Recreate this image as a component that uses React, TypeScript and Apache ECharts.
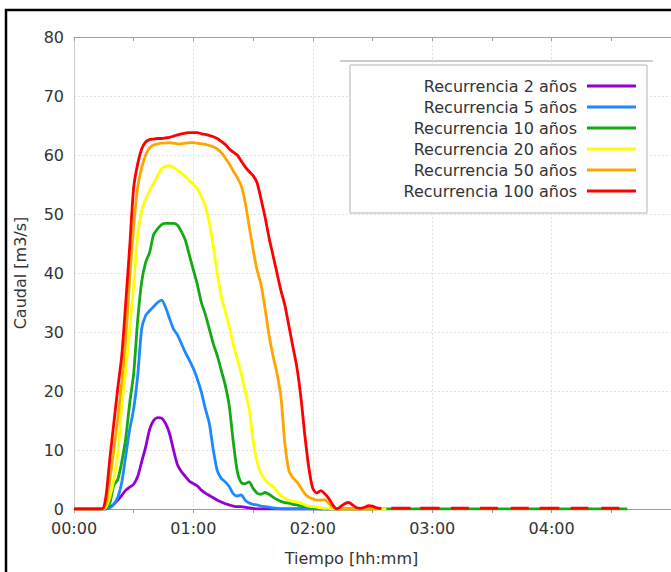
import React, { useEffect, useRef } from "react";
import * as echarts from "echarts";

// Time in minutes from 00:00
const TIME = [
  0, 14, 16, 18, 20, 22, 24, 26, 28, 30, 32, 34, 36, 38, 40, 42, 44, 46, 48, 50,
  52, 54, 56, 58, 60, 62, 64, 66, 68, 70, 72, 74, 76, 78, 80, 82, 84, 86, 88, 90,
  92, 94, 96, 98, 100, 102, 104, 106, 108, 110, 112, 114, 116, 118, 120, 122, 124, 126, 128, 130,
  132,
];

// Caudal [m3/s] per return period
const Q2 = [
  0, 0, 0, 0.3, 0.8, 1.5, 2.3, 3.2, 3.7, 4.2, 5.5, 8.0, 10.5, 13.5, 15.0, 15.5, 15.4, 14.5, 12.8, 10.0,
  7.5, 6.3, 5.5, 4.7, 4.3, 3.9, 3.2, 2.7, 2.3, 1.9, 1.5, 1.2, 0.9, 0.7, 0.5, 0.4, 0.4, 0.3, 0.2, 0.1,
  0, 0, 0, 0, 0, 0, 0, 0, 0, 0, 0, 0, 0, 0, 0, 0, 0, 0, 0, 0,
  0,
];
const Q5 = [
  0, 0, 0, 0.2, 0.8, 2.0, 4.5, 9.0, 13.5, 17.0, 22.5, 30.5, 32.8, 33.6, 34.3, 35.0, 35.4, 34.2, 32.3, 30.5,
  29.5, 28.0, 26.5, 25.2, 23.8, 22.0, 19.8, 17.0, 14.5, 10.0, 6.5, 5.2, 4.6, 3.8, 2.6, 2.2, 2.4, 1.5, 1.0, 0.8,
  0.7, 0.5, 0.4, 0.3, 0.2, 0.1, 0, 0, 0, 0, 0, 0, 0, 0, 0, 0, 0, 0, 0, 0,
  0,
];
const Q10 = [
  0, 0, 0.2, 1.0, 4.0, 5.0, 8.0, 12.0, 18.0, 23.0, 32.0, 38.5, 41.8, 43.5, 46.5, 47.5, 48.2, 48.4, 48.4, 48.4,
  48.1, 47.0, 45.5, 43.0, 40.5, 38.0, 35.0, 33.0, 30.5, 28.0, 26.0, 23.5, 21.0, 17.5, 11.5, 6.5, 4.5, 4.3, 4.6, 3.5,
  2.7, 2.5, 2.8, 2.5, 2.0, 1.6, 1.3, 1.1, 1.0, 0.8, 0.7, 0.5, 0.4, 0.3, 0.2, 0.1, 0, 0, 0, 0,
  0,
];
const Q20 = [
  0, 0, 0.3, 2.0, 5.0, 9.5, 17.5, 23.5, 30.5, 38.0, 46.5, 50.5, 52.5, 54.0, 55.2, 56.5, 57.7, 58.1, 58.2, 57.9,
  57.4, 56.9, 56.3, 55.6, 55.0, 54.2, 53.0, 51.3, 48.5, 44.5, 40.0, 36.0, 33.5, 31.0, 28.0, 25.5, 23.0, 20.0, 17.0, 11.5,
  8.0, 6.0, 5.0, 4.3, 3.8, 3.0, 2.3, 1.8, 1.5, 1.3, 1.2, 1.0, 0.7, 0.5, 0.4, 0.3, 0.2, 0.1, 0.1, 0,
  0,
];
const Q50 = [
  0, 0, 0.8, 5.0, 10.0, 15.5, 21.5, 29.0, 39.0, 48.0, 54.5, 57.8, 60.0, 61.2, 61.7, 61.9, 62.0, 62.0, 62.1, 62.0,
  61.9, 61.9, 62.0, 62.1, 62.1, 62.0, 61.9, 61.8, 61.6, 61.4, 61.0, 60.4, 59.5, 58.5, 57.3, 56.2, 54.8, 52.0, 48.0, 44.0,
  40.5, 38.0, 34.0, 29.5, 26.0, 23.0, 19.0, 11.0, 6.5, 5.3, 4.6, 3.6, 2.6, 2.0, 1.7, 1.5, 1.5, 1.6, 1.0, 0.3,
  0,
];
const Q100 = [
  0, 0, 2.0, 8.5, 14.5, 20.5, 26.0, 35.0, 44.5, 54.5, 58.5, 61.0, 62.2, 62.6, 62.7, 62.8, 62.8, 62.9, 63.0, 63.2,
  63.4, 63.6, 63.7, 63.8, 63.8, 63.8, 63.6, 63.5, 63.3, 63.1, 62.8, 62.3, 61.8, 61.0, 60.5, 60.0, 59.0, 58.0, 57.2, 56.5,
  55.3, 52.5, 49.5, 46.0, 43.0, 40.0, 37.0, 34.5, 31.0, 27.5, 24.0, 19.0, 12.5, 7.0, 3.5, 2.7, 3.1, 2.6, 1.8, 0.7,
  0,
];

// Time (min) at which each series' flat zero tail ends
const TAIL_END = [150, 150, 278, 157, 152, 0];

// Recurrence 100 years: ripples after the main hydrograph (null = break)
const RED_TAIL_TIME = [
  134, 136, 138, 140, 142, 144, 146, 148, 150, 152, 154.5, 157,
  159.4, 169.1, 171, 174, 183.7, 186, 189.4, 198.4, 201, 204, 213, 216,
  219.5, 228.5, 231, 234, 243.9, 246, 249.6, 258.5, 262, 265, 274,
];
const RED_TAIL_Q = [
  0.4, 0.9, 1.1, 0.7, 0.2, 0.1, 0.3, 0.55, 0.5, 0.2, 0.05, null,
  0.15, 0.15, null, 0.15, 0.15, null, 0.15, 0.15, null, 0.15, 0.15, null,
  0.15, 0.15, null, 0.15, 0.15, null, 0.15, 0.15, null, 0.15, 0.15,
];

const SERIES_NAMES = [
  "Recurrencia 2 años",
  "Recurrencia 5 años",
  "Recurrencia 10 años",
  "Recurrencia 20 años",
  "Recurrencia 50 años",
  "Recurrencia 100 años",
];
const SERIES_VALUES = [Q2, Q5, Q10, Q20, Q50, Q100];
const SERIES_COLORS = ["#9400D3", "#1E88FF", "#14AA14", "#FFFF00", "#FFA500", "#FF0000"];

const FONT = "DejaVu Sans";

function fmtTime(v: number): string {
  if (v % 60 !== 0) return "";
  const h = Math.floor(v / 60);
  return (h < 10 ? "0" : "") + h + ":00";
}

export default function App() {
  const ref = useRef<HTMLDivElement>(null);

  useEffect(() => {
    if (!ref.current) return;
    const chart = echarts.init(ref.current, undefined, { renderer: "svg" });

    const series = SERIES_NAMES.map((name, i) => {
      const data: any[] = TIME.map((t, j) => [t, SERIES_VALUES[i][j]]);
      if (TAIL_END[i] > TIME[TIME.length - 1]) data.push([TAIL_END[i], 0]);
      if (i === 5) {
        RED_TAIL_TIME.forEach((t, j) => {
          const q = RED_TAIL_Q[j];
          data.push([t, q === null ? "-" : q]);
        });
      }
      return {
        name,
        type: "line",
        xAxisIndex: 0,
        data,
        showSymbol: false,
        smooth: 0.25,
        connectNulls: false,
        lineStyle: { color: SERIES_COLORS[i], width: 2.8 },
        itemStyle: { color: SERIES_COLORS[i] },
      };
    });

    chart.setOption({
      animation: false,
      backgroundColor: "#ffffff",
      textStyle: { fontFamily: FONT },
      grid: { left: 74, top: 37, right: -18, bottom: 63, containLabel: false },
      legend: {
        orient: "vertical",
        left: 350,
        top: 65,
        align: "right",
        icon: "rect",
        itemWidth: 49,
        itemHeight: 3,
        itemGap: 3,
        padding: [12, 11, 13, 52],
        backgroundColor: "#ffffff",
        borderColor: "#b4b4b4",
        borderWidth: 1,
        data: SERIES_NAMES,
        textStyle: {
          fontFamily: FONT,
          fontSize: 16,
          color: "#333333",
          width: 175,
          lineHeight: 18,
          padding: [0, 5, 0, 0],
        },
      },
      xAxis: [
        {
          type: "value",
          position: "bottom",
          min: 0,
          max: 300,
          interval: 60,
          name: "Tiempo [hh:mm]",
          nameLocation: "middle",
          nameGap: 41,
          nameTextStyle: { fontFamily: FONT, fontSize: 16, color: "#333333", padding: [0, 42, 0, 0] },
          axisLine: { show: true, lineStyle: { color: "#9a9a9a", width: 1 } },
          axisTick: { show: true, length: 4, lineStyle: { color: "#9a9a9a" } },
          minorTick: { show: true, splitNumber: 2, length: 4, lineStyle: { color: "#9a9a9a" } },
          axisLabel: {
            fontFamily: FONT,
            fontSize: 16,
            color: "#333333",
            margin: 11,
            showMaxLabel: false,
            formatter: (v: number) => fmtTime(v),
          },
          splitLine: { show: true, lineStyle: { color: "#e2e2e2", type: [2, 2], width: 1 } },
        },
        {
          type: "value",
          position: "top",
          min: 0,
          max: 300,
          interval: 60,
          axisLine: { show: true, lineStyle: { color: "#a0a0a0", width: 1 } },
          axisTick: { show: true, inside: true, length: 4, lineStyle: { color: "#a0a0a0" } },
          minorTick: { show: true, splitNumber: 2, length: 4, lineStyle: { color: "#a0a0a0" } },
          axisLabel: { show: false },
          splitLine: { show: false },
        },
      ],
      yAxis: {
        type: "value",
        min: 0,
        max: 80,
        interval: 10,
        name: "Caudal [m3/s]",
        nameLocation: "middle",
        nameGap: 46,
        nameTextStyle: { fontFamily: FONT, fontSize: 16, color: "#333333" },
        axisLine: { show: true, lineStyle: { color: "#cccccc", width: 1 } },
        axisTick: { show: false },
        axisLabel: { fontFamily: FONT, fontSize: 16, color: "#333333", margin: 10 },
        splitLine: { show: true, lineStyle: { color: "#e2e2e2", type: [2, 2], width: 1 } },
      },
      graphic: [
        {
          type: "rect",
          shape: { x: 6, y: 10, width: 720, height: 620 },
          style: { fill: "none", stroke: "#000000", lineWidth: 2.5 },
          silent: true,
          z: 100,
        },
        {
          type: "line",
          shape: { x1: 340, y1: 61, x2: 653, y2: 61 },
          style: { stroke: "#9a9a9a", lineWidth: 1 },
          silent: true,
          z: -1,
        },
      ],
      series,
    });

    return () => {
      chart.dispose();
    };
  }, []);

  return (
    <div
      ref={ref}
      style={{ position: "absolute", left: 0, top: 0, width: 671, height: 572 }}
    />
  );
}
